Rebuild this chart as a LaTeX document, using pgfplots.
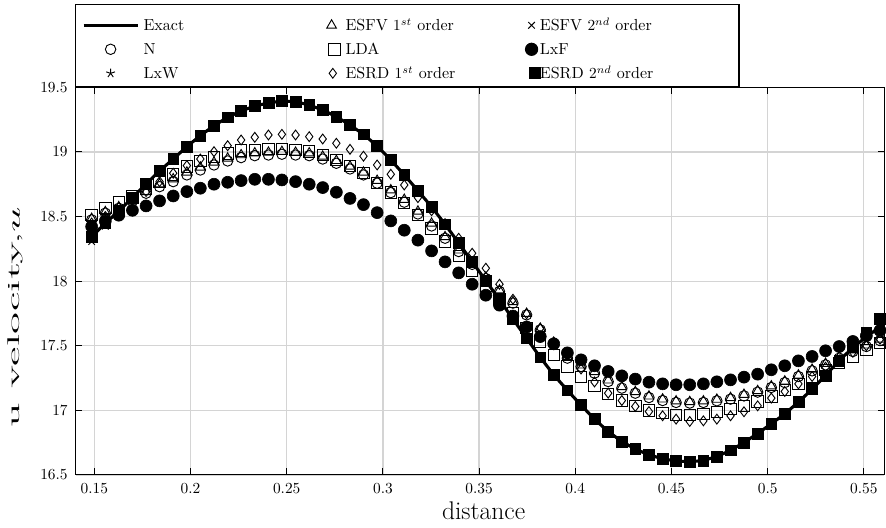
\documentclass[border=0pt]{standalone}
\usepackage{graphicx}
\usepackage{pgfplots}
\pgfplotsset{compat=1.18}
\usepackage{pgfplotstable}

\pgfplotstableread{
x      u
0.1486 18.345
0.1557 18.448
0.1627 18.543
0.1698 18.646
0.1769 18.752
0.1839 18.853
0.1910 18.945
0.1981 19.041
0.2051 19.126
0.2122 19.203
0.2193 19.268
0.2263 19.317
0.2334 19.355
0.2405 19.379
0.2475 19.394
0.2546 19.389
0.2617 19.363
0.2687 19.324
0.2758 19.273
0.2829 19.208
0.2899 19.136
0.2970 19.046
0.3041 18.938
0.3111 18.822
0.3182 18.700
0.3253 18.575
0.3323 18.440
0.3394 18.295
0.3464 18.150
0.3535 18.003
0.3606 17.855
0.3676 17.707
0.3747 17.558
0.3818 17.410
0.3888 17.275
0.3959 17.155
0.4030 17.040
0.4100 16.932
0.4171 16.836
0.4242 16.759
0.4312 16.700
0.4383 16.656
0.4454 16.625
0.4524 16.608
0.4595 16.602
0.4666 16.612
0.4736 16.643
0.4807 16.690
0.4877 16.751
0.4948 16.821
0.5019 16.896
0.5089 16.973
0.5160 17.064
0.5231 17.164
0.5301 17.270
0.5372 17.386
0.5443 17.485
0.5513 17.570
0.5584 17.645
0.5606 17.662
}\exacttable

\pgfplotstableread{
x      esfvA  esfvB  n      lda    lxf    lxw    esrdA  esrdB
0.1486 18.484 18.306 18.474 18.512 18.422 18.330 18.450 18.345
0.1557 18.536 18.425 18.526 18.564 18.465 18.445 18.500 18.448
0.1627 18.574 18.538 18.564 18.615 18.510 18.548 18.570 18.543
0.1698 18.631 18.641 18.621 18.660 18.548 18.651 18.630 18.646
0.1769 18.690 18.747 18.680 18.715 18.582 18.757 18.693 18.752
0.1839 18.751 18.848 18.731 18.770 18.621 18.858 18.770 18.853
0.1910 18.790 18.940 18.770 18.825 18.659 18.950 18.835 18.945
0.1981 18.842 19.036 18.822 18.886 18.693 19.046 18.894 19.041
0.2051 18.880 19.121 18.860 18.930 18.719 19.131 18.945 19.126
0.2122 18.919 19.198 18.899 18.963 18.750 19.208 19.002 19.203
0.2193 18.950 19.263 18.930 18.989 18.765 19.273 19.048 19.268
0.2263 18.976 19.312 18.956 19.010 18.778 19.322 19.092 19.317
0.2334 18.991 19.350 18.971 19.015 18.788 19.360 19.113 19.355
0.2405 18.996 19.374 18.976 19.023 18.788 19.384 19.131 19.379
0.2475 19.002 19.389 18.982 19.023 18.783 19.399 19.136 19.394
0.2546 18.996 19.384 18.976 19.015 18.770 19.394 19.131 19.389
0.2617 18.991 19.358 18.971 19.002 18.750 19.368 19.118 19.363
0.2687 18.965 19.319 18.945 18.976 18.724 19.329 19.100 19.324
0.2758 18.932 19.268 18.912 18.938 18.688 19.278 19.067 19.273
0.2829 18.888 19.203 18.868 18.892 18.640 19.213 19.020 19.208
0.2899 18.842 19.131 18.822 18.838 18.592 19.141 18.967 19.136
0.2970 18.778 19.041 18.758 18.758 18.530 19.051 18.899 19.046
0.3041 18.705 18.933 18.685 18.685 18.466 18.943 18.827 18.938
0.3111 18.631 18.817 18.611 18.603 18.394 18.827 18.744 18.822
0.3182 18.540 18.695 18.520 18.512 18.317 18.705 18.646 18.700
0.3253 18.447 18.570 18.427 18.409 18.234 18.580 18.545 18.575
0.3323 18.342 18.435 18.332 18.306 18.149 18.445 18.445 18.440
0.3394 18.239 18.290 18.229 18.195 18.064 18.300 18.332 18.295
0.3464 18.140 18.145 18.130 18.079 17.976 18.155 18.216 18.150
0.3535 18.030 17.998 18.020 17.963 17.891 18.008 18.100 18.003
0.3606 17.930 17.850 17.920 17.860 17.814 17.860 17.976 17.855
0.3676 17.840 17.702 17.830 17.752 17.730 17.712 17.860 17.707
0.3747 17.749 17.553 17.739 17.636 17.645 17.563 17.747 17.558
0.3818 17.633 17.405 17.623 17.533 17.571 17.415 17.636 17.410
0.3888 17.520 17.270 17.510 17.430 17.515 17.280 17.530 17.275
0.3959 17.414 17.150 17.404 17.339 17.445 17.160 17.430 17.155
0.4030 17.349 17.035 17.339 17.260 17.391 17.045 17.320 17.040
0.4100 17.298 16.927 17.288 17.190 17.345 16.937 17.220 16.932
0.4171 17.233 16.831 17.223 17.126 17.301 16.841 17.133 16.836
0.4242 17.182 16.754 17.172 17.076 17.267 16.764 17.076 16.759
0.4312 17.143 16.695 17.133 17.035 17.242 16.705 17.030 16.700
0.4383 17.109 16.651 17.099 16.999 17.218 16.661 16.991 16.656
0.4454 17.086 16.620 17.076 16.979 17.205 16.630 16.958 16.625
0.4524 17.071 16.603 17.061 16.966 17.198 16.613 16.932 16.608
0.4595 17.066 16.597 17.056 16.966 17.198 16.607 16.914 16.602
0.4666 17.071 16.607 17.061 16.973 17.205 16.617 16.919 16.612
0.4736 17.084 16.638 17.074 16.986 17.221 16.648 16.932 16.643
0.4807 17.097 16.685 17.087 17.010 17.236 16.695 16.958 16.690
0.4877 17.122 16.746 17.112 17.035 17.257 16.756 16.989 16.751
0.4948 17.151 16.816 17.141 17.068 17.280 16.826 17.035 16.821
0.5019 17.187 16.891 17.177 17.107 17.314 16.901 17.095 16.896
0.5089 17.225 16.968 17.215 17.159 17.345 16.978 17.146 16.973
0.5160 17.272 17.059 17.262 17.205 17.383 17.069 17.205 17.064
0.5231 17.316 17.159 17.306 17.257 17.417 17.169 17.262 17.164
0.5301 17.362 17.265 17.352 17.314 17.461 17.275 17.334 17.270
0.5372 17.414 17.381 17.404 17.365 17.494 17.391 17.391 17.386
0.5443 17.465 17.489 17.455 17.417 17.533 17.499 17.450 17.494
0.5513 17.504 17.597 17.494 17.468 17.577 17.607 17.500 17.602
0.5584 17.550 17.701 17.540 17.520 17.618 17.711 17.550 17.706
}\datatable

\begin{document}
\begin{tikzpicture}
\begin{axis}[
  scale only axis,
  width=525.6pt, height=252pt,
  xmin=0.1403, xmax=0.5606, ymin=16.5, ymax=19.5,
  xtick={0.15,0.2,0.25,0.3,0.35,0.4,0.45,0.5,0.55},
  ytick={16.5,17,17.5,18,18.5,19,19.5},
  grid=major,
  grid style={draw=black!17, line width=0.8pt},
  axis line style={line width=0.7pt},
  tick style={black, line width=0.6pt},
  tick label style={font=\fontsize{10}{12}\selectfont},
  xticklabel style={yshift=-2pt},
  yticklabel style={xshift=-1.7pt},
  xlabel={distance},
  ylabel={\resizebox{143pt}{\height}{u velocity,$u$}},
  xlabel style={font=\fontsize{16.6}{19}\selectfont, at={(axis description cs:0.5045,0)}, anchor=base, yshift=-29.25pt},
  ylabel style={font=\fontsize{11}{13}\selectfont, at={(axis description cs:-0.0689,0.4075)}, anchor=base},
  legend columns=3,
  legend style={
    at={(rel axis cs:0,1)}, anchor=south west, xshift=-0.45pt,
    draw=black, line width=0.8pt, fill=white,
    inner xsep=0pt, inner ysep=3.35pt,
    cells={anchor=base west},
    nodes={inner sep=0pt, text height=13.85pt, text depth=1.75pt, font=\fontsize{10.4}{12}\selectfont},
    /tikz/column sep=0pt, /tikz/row sep=0pt,
  },
  every axis plot/.append style={mark options={solid, line width=0.6pt}},
]
\coordinate (O) at (rel axis cs:0,0);

% Exact
\addplot[black, line width=2pt, no marks,
  legend image code/.code={\path[draw=none,fill=none] (0pt,0pt) rectangle (44.2pt,1pt); \draw[line width=2pt] (5.2pt,3.6pt) -- (40.3pt,3.6pt);}]
  table[x=x, y=u] {\exacttable};
\addlegendentry{\makebox[117pt][l]{Exact}}

% ESFV 1st
\addplot[black, only marks, mark=triangle, mark size=3.6pt,
  legend image code/.code={\path[draw=none,fill=none] (0pt,0pt) rectangle (14.3pt,1pt); \draw plot coordinates {(5.2pt,3.6pt)};}]
  table[x=x, y=esfvA] {\datatable};
\addlegendentry{\makebox[115.05pt][l]{ESFV $1^{st}$ order}}

% ESFV 2nd
\addplot[black, only marks, mark=x, mark size=3pt,
  legend image code/.code={\path[draw=none,fill=none] (0pt,0pt) rectangle (11.05pt,1pt); \draw plot coordinates {(5.85pt,3.6pt)};}]
  table[x=x, y=esfvB] {\datatable};
\addlegendentry{\makebox[129.35pt][l]{ESFV $2^{nd}$ order}}

% N
\addplot[black, only marks, mark=o, mark size=3.4pt,
  legend image code/.code={\path[draw=none,fill=none] (0pt,0pt) rectangle (44.2pt,1pt); \draw plot coordinates {(22.75pt,3.6pt)};}]
  table[x=x, y=n] {\datatable};
\addlegendentry{\makebox[117pt][l]{N}}

% LDA
\addplot[black, only marks, mark=square, mark size=3.7pt,
  legend image code/.code={\path[draw=none,fill=none] (0pt,0pt) rectangle (14.3pt,1pt); \draw plot coordinates {(7pt,3.6pt)};}]
  table[x=x, y=lda] {\datatable};
\addlegendentry{\makebox[115.05pt][l]{LDA}}

% LxF
\addplot[black, only marks, mark=*, mark size=3.9pt, mark options={fill=black},
  legend image code/.code={\path[draw=none,fill=none] (0pt,0pt) rectangle (11.05pt,1pt); \draw plot coordinates {(5.85pt,3.6pt)};}]
  table[x=x, y=lxf] {\datatable};
\addlegendentry{\makebox[129.35pt][l]{LxF}}

% LxW
\addplot[black, only marks, mark=star, mark size=3pt,
  legend image code/.code={\path[draw=none,fill=none] (0pt,0pt) rectangle (44.2pt,1pt); \draw plot coordinates {(22.75pt,3.6pt)};}]
  table[x=x, y=lxw] {\datatable};
\addlegendentry{\makebox[117pt][l]{LxW}}

% ESRD 1st
\addplot[black, only marks, mark=diamond, mark size=3.2pt,
  legend image code/.code={\path[draw=none,fill=none] (0pt,0pt) rectangle (14.3pt,1pt); \draw plot coordinates {(6pt,3.6pt)};}]
  table[x=x, y=esrdA] {\datatable};
\addlegendentry{\makebox[115.05pt][l]{ESRD $1^{st}$ order}}

% ESRD 2nd
\addplot[black, only marks, mark=square*, mark size=3.5pt, mark options={fill=black},
  legend image code/.code={\path[draw=none,fill=none] (0pt,0pt) rectangle (11.05pt,1pt); \draw plot coordinates {(7.8pt,3.6pt)};}]
  table[x=x, y=esrdB] {\datatable};
\addlegendentry{\makebox[129.35pt][l]{ESRD $2^{nd}$ order}}

\end{axis}
\path (O) ++(-49.2pt,-34.45pt) rectangle ++(575.9pt,343.2pt);
\end{tikzpicture}
\end{document}
